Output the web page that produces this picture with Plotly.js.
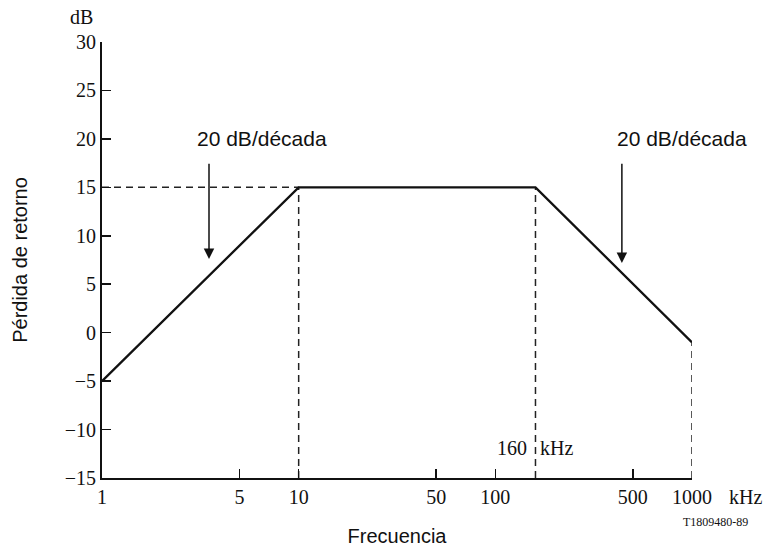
<!DOCTYPE html>
<html><head><meta charset="utf-8">
<script src="https://cdn.plot.ly/plotly-3.0.1.min.js"></script>
<style>html,body{margin:0;padding:0;background:#fff}#chart{width:768px;height:549px}</style>
</head><body><div id="chart"></div>
<script>
// Data
const freqKHz = [1, 10, 160, 1000];
const lossDB = [-5, 15, 15, -1];
const yTicks = [-15, -10, -5, 0, 5, 10, 15, 20, 25, 30];
const xTicks = [1, 5, 10, 50, 100, 500, 1000];
const yMin = -15, yMax = 30;
const arrowFreqs = [3.5, 440];
const slopeLabel = "20 dB/década";

const serif = "'Liberation Serif', 'DejaVu Serif', serif";
const sans = "'Liberation Sans', Arial, sans-serif";

// dashed guide lines built from the corner points
const gx = [], gy = [];
gx.push(freqKHz[0], freqKHz[1], null); gy.push(lossDB[1], lossDB[1], null);
for (const i of [1, 2, 3]) { gx.push(freqKHz[i], freqKHz[i], null); gy.push(yMin, lossDB[i], null); }

const traces = [
  {x: gx, y: gy, mode: 'lines', line: {color: '#222', width: 1.5, dash: '7px,5px'}, hoverinfo: 'skip', connectgaps: false},
  {x: freqKHz, y: lossDB, mode: 'lines', line: {color: '#111', width: 2.3}}
];

const L = Math.log10;
const txt = (x, y, text, font, extra) => Object.assign({x, y, xref: 'paper', yref: 'paper', text, showarrow: false,
  xanchor: 'center', yanchor: 'middle', font}, extra || {});
const annotations = [
  // arrows
  {x: L(arrowFreqs[0]), y: 7.6, ax: L(arrowFreqs[0]), ay: 17.6, xref: 'x', yref: 'y', axref: 'x', ayref: 'y',
   showarrow: true, arrowhead: 2, arrowsize: 1.4, arrowwidth: 1.5, arrowcolor: '#111', text: ''},
  {x: L(arrowFreqs[1]), y: 7.2, ax: L(arrowFreqs[1]), ay: 17.6, xref: 'x', yref: 'y', axref: 'x', ayref: 'y',
   showarrow: true, arrowhead: 2, arrowsize: 1.4, arrowwidth: 1.5, arrowcolor: '#111', text: ''},
  txt(0.271, 0.779, slopeLabel, {family: sans, size: 21, color: '#111'}),
  txt(0.983, 0.779, slopeLabel, {family: sans, size: 21, color: '#111'}),
  {x: L(160), y: -11.9, xref: 'x', yref: 'y', text: '160', showarrow: false, xanchor: 'right', yanchor: 'middle', xshift: -6, font: {family: serif, size: 20, color: '#111'}},
  {x: L(160), y: -11.9, xref: 'x', yref: 'y', text: 'kHz', showarrow: false, xanchor: 'left', yanchor: 'middle', xshift: 3, font: {family: serif, size: 20, color: '#111'}},
  txt(1.09, -0.044, 'kHz', {family: serif, size: 20, color: '#111'}),
  txt(-0.034, 1.057, 'dB', {family: serif, size: 20, color: '#111'}),
  txt(1.04, -0.101, 'T1809480-89', {family: serif, size: 12, color: '#111'})
];

const layout = {
  width: 768, height: 549,
  margin: {l: 102, r: 76, t: 42, b: 71},
  paper_bgcolor: '#fff', plot_bgcolor: '#fff',
  showlegend: false,
  xaxis: {
    type: 'log', range: [0, 3], tickvals: xTicks, ticktext: xTicks.map(String),
    ticks: 'inside', ticklen: 9, tickwidth: 1.5, tickcolor: '#111',
    showline: true, linecolor: '#111', linewidth: 2, showgrid: false, zeroline: false,
    tickfont: {family: serif, size: 20, color: '#111'},
    title: {text: 'Frecuencia', font: {family: sans, size: 20, color: '#111'}, standoff: 22},
    automargin: false
  },
  yaxis: {
    range: [yMin, yMax], tickvals: yTicks,
    ticks: 'inside', ticklen: 9, tickwidth: 1.5, tickcolor: '#111',
    showline: true, linecolor: '#111', linewidth: 2, showgrid: false, zeroline: false,
    tickfont: {family: serif, size: 20, color: '#111'},
    title: {text: 'Pérdida de retorno', font: {family: sans, size: 20, color: '#111'}, standoff: 32},
    automargin: false
  },
  annotations: annotations
};

Plotly.newPlot('chart', traces, layout, {displayModeBar: false, staticPlot: true});
</script>
</body></html>
